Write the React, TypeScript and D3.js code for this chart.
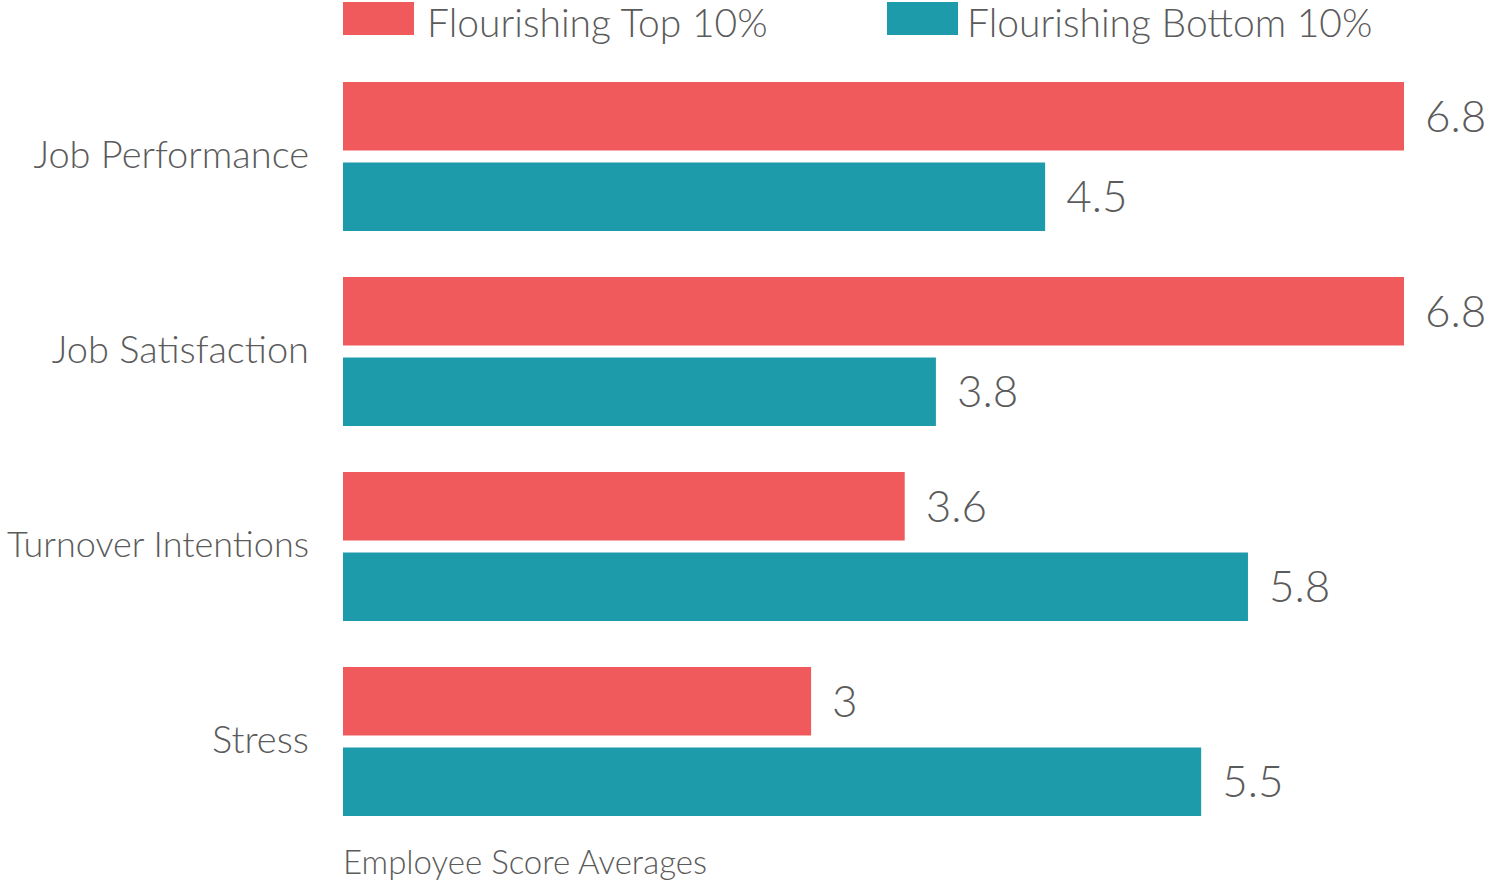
import { useRef, useEffect } from 'react';
import * as d3 from 'd3';

const categories = ['Job Performance', 'Job Satisfaction', 'Turnover Intentions', 'Stress'];
const seriesNames = ['Flourishing Top 10%', 'Flourishing Bottom 10%'];
const topValues = [6.8, 6.8, 3.6, 3];
const bottomValues = [4.5, 3.8, 5.8, 5.5];
const colors = ['#f05a5d', '#1e9bab'];
const footer = 'Employee Score Averages';

export default function App() {
    const svgRef = useRef<SVGSVGElement>(null);
    const width = 1489;
    const height = 885;

    useEffect(() => {
        if (!svgRef.current) return;
        const svg = d3.select(svgRef.current);
        svg.selectAll('*').remove();

        const font = 'Lato, "Open Sans", sans-serif';
        const textColor = '#5b5b5b';
        const left = 343;

        const x = d3.scaleLinear().domain([0, 6.8]).range([left, left + 1061]);

        // groups: step 195, band 149
        const y0 = d3.scaleBand<string>()
            .domain(categories)
            .range([82, 82 + 195 * 4 - 46])
            .paddingInner(46 / 195)
            .paddingOuter(0);

        const y1 = d3.scaleBand<string>()
            .domain(seriesNames)
            .range([0, y0.bandwidth()])
            .paddingInner(12 / 80.5);

        const seriesValues = [topValues, bottomValues];

        // Legend
        const legend = svg.append('g');
        const legendX = [343, 887];
        const legendTextX = [427, 967];
        seriesNames.forEach((name, i) => {
            legend.append('rect')
                .attr('x', legendX[i])
                .attr('y', 2)
                .attr('width', 71)
                .attr('height', 33)
                .attr('fill', colors[i]);
            legend.append('text')
                .attr('x', legendTextX[i])
                .attr('y', 37)
                .attr('fill', textColor)
                .attr('font-family', font)
                .attr('font-weight', 300)
                .attr('font-size', '39px')
                .text(name);
        });

        const g = svg.append('g');

        categories.forEach((cat, ci) => {
            const gy = y0(cat)!;
            const label = g.append('text')
                .attr('x', 309)
                .attr('y', gy + y0.bandwidth() / 2)
                .attr('dy', '0.3em')
                .attr('text-anchor', 'end')
                .attr('fill', textColor)
                .attr('font-family', font)
                .attr('font-weight', 300)
                .attr('font-size', '38px')
                .text(cat);
            // shrink long labels so they fit left of the bars
            const len = (label.node() as SVGTextElement).getComputedTextLength();
            if (len > 305) label.attr('font-size', `${Math.floor(38 * 305 / len)}px`);

            seriesNames.forEach((s, si) => {
                const v = seriesValues[si][ci];
                const by = gy + y1(s)!;
                g.append('rect')
                    .attr('x', x(0))
                    .attr('y', by)
                    .attr('width', x(v) - x(0))
                    .attr('height', y1.bandwidth())
                    .attr('fill', colors[si]);
                g.append('text')
                    .attr('x', x(v) + 21)
                    .attr('y', by + y1.bandwidth() / 2)
                    .attr('dy', '0.35em')
                    .attr('fill', textColor)
                    .attr('font-family', font)
                    .attr('font-weight', 300)
                    .attr('font-size', '44px')
                    .text(String(v));
            });
        });

        svg.append('text')
            .attr('x', left)
            .attr('y', 874)
            .attr('fill', textColor)
            .attr('font-family', font)
            .attr('font-weight', 300)
            .attr('font-size', '33px')
            .text(footer);
    }, []);

    return (
        <svg
            ref={svgRef}
            width={width}
            height={height}
            style={{ position: 'absolute', left: 0, top: 0, background: '#fff' }}
        />
    );
}
